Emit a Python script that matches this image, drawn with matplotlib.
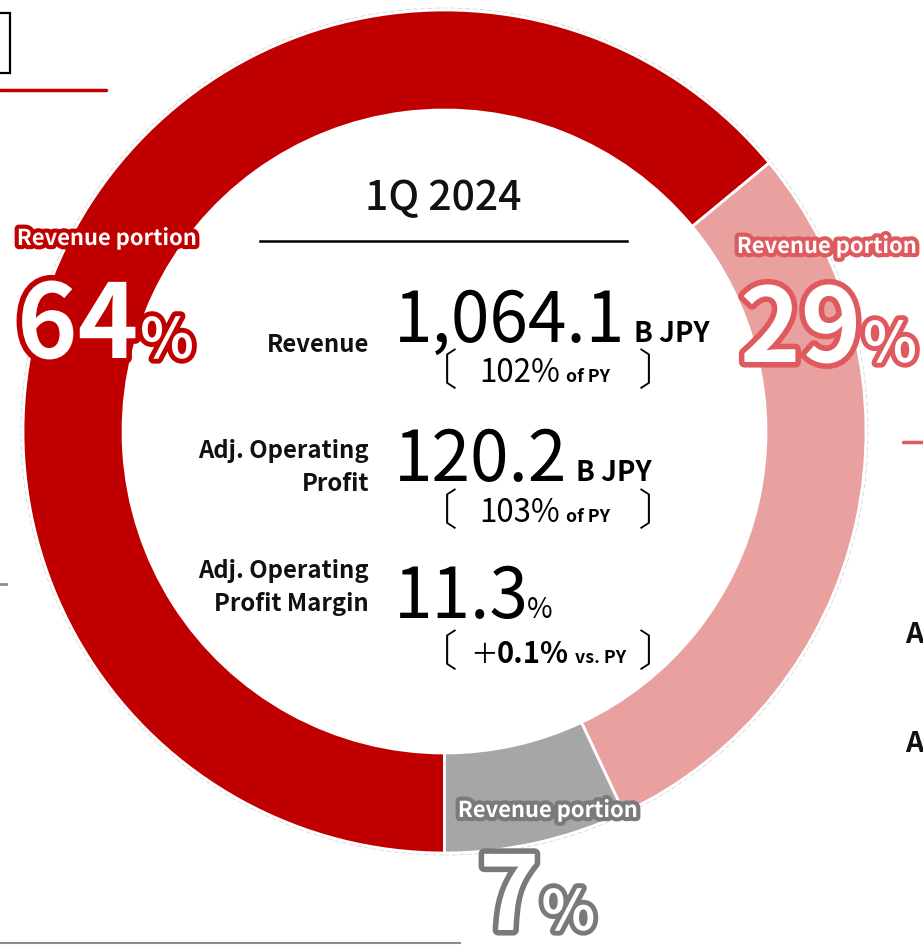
import matplotlib
matplotlib.use("Agg")
import matplotlib.pyplot as plt
import matplotlib.patheffects as pe
from matplotlib.patches import Rectangle

# revenue portion by segment (order: clockwise from 6 o'clock)
shares = [64, 29, 7]
ring_colors = ["#C00000", "#E9A1A0", "#A6A6A6"]
label_edge = ["#C00000", "#DF5A5E", "#7A7A7A"]

period = "1Q 2024"
kpi_names = ["Revenue", "Adj. Operating\nProfit", "Adj. Operating\nProfit Margin"]
kpi_values = ["1,064.1", "120.2", "11.3"]
kpi_units = ["B JPY", "B JPY", "%"]
kpi_change = ["102%", "103%", "0.1%"]
kpi_change_sign = ["", "", "＋"]
kpi_change_ref = ["of PY", "of PY", "vs. PY"]

W, H = 923, 946
plt.rcParams["font.family"] = ["Noto Sans CJK JP", "DejaVu Sans"]


def Y(py):
    # pixel row -> data y
    return H - py


fig = plt.figure(figsize=(W / 100, H / 100), dpi=100)
ax = fig.add_axes([0, 0, 1, 1])

cx, cy, r, ring = 444.5, 431.5, 421.5, 100
ax.pie(shares, colors=ring_colors, startangle=-90, counterclock=False,
       center=(cx, Y(cy)), radius=r,
       wedgeprops=dict(width=ring, edgecolor="white", linewidth=2))
ax.add_patch(plt.Circle((cx, Y(cy)), r + 2, fill=False, ec="#D8D8D8", lw=0.6, ls=(0, (6, 3))))

ax.set_xlim(0, W)
ax.set_ylim(0, H)
ax.set_aspect("equal")
ax.axis("off")
renderer = fig.canvas.get_renderer()


def after(prev, gap, s, **kw):
    # put a text right after another one, on the same baseline (axes x == pixels)
    bb = prev.get_window_extent(renderer)
    return ax.text(bb.x1 + gap, prev.get_position()[1], s, ha="left", va="baseline", **kw)


# bits of the neighbouring slide content
ax.add_patch(Rectangle((-20, Y(73)), 30, 60, fill=False, ec="black", lw=1.6))
ax.plot([0, 106], [Y(90.5), Y(90.5)], color="#C00000", lw=2.5, solid_capstyle="round")
ax.plot([903, 930], [Y(442), Y(442)], color="#DF5A5E", lw=2.5, solid_capstyle="round")
ax.plot([0, 6], [Y(584), Y(584)], color="#8C8C8C", lw=2)
ax.plot([0, 460], [Y(943), Y(943)], color="#8C8C8C", lw=1.5)
for py in [643, 752]:
    ax.text(905, Y(py), "A", fontsize=20.5, fontweight="bold",
            ha="left", va="baseline", color="#111111")

# centre block
ax.text(443, Y(210), period, fontsize=29.5, fontweight="medium",
        ha="center", va="baseline", color="#111111")
ax.plot([260, 627], [Y(241), Y(241)], color="black", lw=1.8)

value_base = [342, 481, 618]
name_base = [[352], [458, 491], [578, 611]]
unit_gap = [9, 9, -2]
unit_size = [20, 20, 20]
change_base = [382, 522, 663]

for i in range(3):
    for line, nb in zip(kpi_names[i].split("\n"), name_base[i]):
        ax.text(369, Y(nb), line, fontsize=17.2, fontweight="bold",
                ha="right", va="baseline", color="#111111")
    val = ax.text(394, Y(value_base[i]), kpi_values[i], fontsize=50,
                  ha="left", va="baseline", color="black")
    after(val, unit_gap[i], kpi_units[i], fontsize=unit_size[i],
          fontweight="bold" if kpi_units[i] != "%" else "normal", color="black")
    cb = change_base[i]
    ax.text(458, Y(cb - 10), "〔", fontsize=31, fontweight="light",
            ha="right", va="center", color="black")
    ax.text(638, Y(cb - 10), "〕", fontsize=31, fontweight="light",
            ha="left", va="center", color="black")
    if kpi_change_sign[i]:
        ax.text(470, Y(cb), kpi_change_sign[i], fontsize=20,
                ha="left", va="baseline", color="black")
        chg = ax.text(497, Y(cb), kpi_change[i], fontsize=21, fontweight="bold",
                      ha="left", va="baseline", color="black")
    else:
        chg = ax.text(479, Y(cb), kpi_change[i], fontsize=22.5,
                      ha="left", va="baseline", color="black")
    after(chg, 6, kpi_change_ref[i], fontsize=12.8, fontweight="bold", color="black")

# revenue portion call-outs
tag_pos = [(107, 245), (827, 253), (548, 817)]
num_pos = [(17, 358), (740, 362), (479, 930)]
for share, edge, (tx, ty), (nx, ny) in zip(shares, label_edge, tag_pos, num_pos):
    ax.text(tx, Y(ty), "Revenue portion", fontsize=15.8, fontweight="bold",
            ha="center", va="baseline", color="white",
            path_effects=[pe.Stroke(linewidth=6, foreground=edge), pe.Normal()])
    big = ax.text(nx, Y(ny), str(share), fontsize=74, fontweight="bold",
                  ha="left", va="baseline", color="white",
                  path_effects=[pe.Stroke(linewidth=8, foreground=edge), pe.Normal()])
    after(big, 2, "%", fontsize=40, fontweight="bold", color="white",
          path_effects=[pe.Stroke(linewidth=7, foreground=edge), pe.Normal()])

fig.savefig("out.png", dpi=100)
